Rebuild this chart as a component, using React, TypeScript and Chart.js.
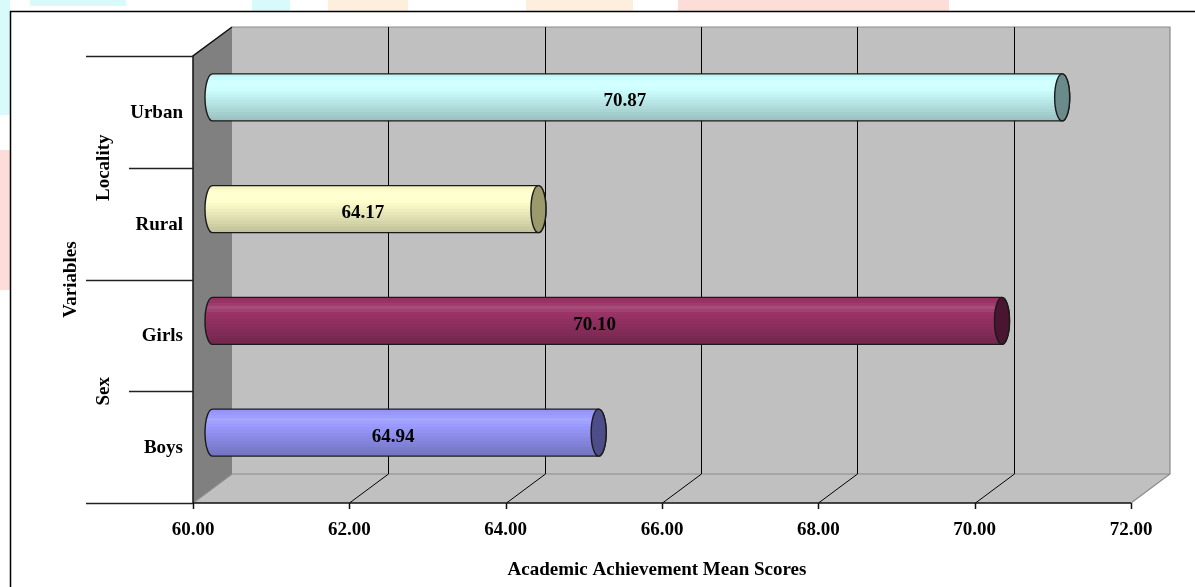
import React, { useEffect, useRef } from 'react';
import { Chart, registerables } from 'chart.js';

Chart.register(...registerables);

const categories = ['Urban', 'Rural', 'Girls', 'Boys'];
const groupLabels = ['Locality', 'Sex'];
const groupSizes = [2, 2];
const meanScores = [70.87, 64.17, 70.1, 64.94];
const barColors = ['#CCFFFF', '#FFFFCC', '#993366', '#9999FF'];
const capColors = ['#6B8B8B', '#9A9A6C', '#4A1530', '#4D4D8A'];
const xMin = 60;
const xMax = 72;
const xStep = 2;
const xTitle = 'Academic Achievement Mean Scores';
const yTitle = 'Variables';

const W = 1195;
const H = 587;
const DX = 39;
const DY = -29;
const FONT = '"Liberation Serif", "Times New Roman", serif';

function hexToRgb(h: string) {
  const n = parseInt(h.slice(1), 16);
  return [(n >> 16) & 255, (n >> 8) & 255, n & 255];
}

function shade(rgb: number[], f: number) {
  const out = rgb.map((c) => {
    if (f >= 1) return Math.round(c + (255 - c) * (f - 1) * 2.5);
    return Math.round(c * f);
  });
  return `rgb(${out.map((v) => Math.max(0, Math.min(255, v))).join(',')})`;
}

function profile(t: number) {
  if (t < 0.22) return 0.95 + (t / 0.22) * 0.1;
  return 1.05 - ((t - 0.22) / 0.78) * 0.3;
}

function drawCylinder(
  ctx: CanvasRenderingContext2D,
  xs: number,
  xe: number,
  cy: number,
  h: number,
  color: string,
  cap: string
) {
  const ry = h / 2;
  const rx = h * 0.16;
  const top = cy - ry;
  const bot = cy + ry;
  const rgb = hexToRgb(color);
  const g = ctx.createLinearGradient(0, top, 0, bot);
  const bands = 16;
  for (let i = 0; i < bands; i++) {
    const t0 = i / bands;
    const t1 = (i + 1) / bands;
    const c = shade(rgb, profile((t0 + t1) / 2));
    g.addColorStop(t0, c);
    g.addColorStop(Math.max(t0, t1 - 0.001), c);
  }
  ctx.save();
  ctx.beginPath();
  ctx.moveTo(xe, top);
  ctx.lineTo(xs, top);
  ctx.ellipse(xs, cy, rx, ry, 0, -Math.PI / 2, Math.PI / 2, true);
  ctx.lineTo(xe, bot);
  ctx.ellipse(xe, cy, rx, ry, 0, Math.PI / 2, -Math.PI / 2, true);
  ctx.closePath();
  ctx.fillStyle = g;
  ctx.fill();
  ctx.lineWidth = 1.4;
  ctx.strokeStyle = '#1a1a1a';
  ctx.stroke();
  ctx.beginPath();
  ctx.ellipse(xe, cy, rx, ry, 0, 0, Math.PI * 2);
  ctx.fillStyle = cap;
  ctx.fill();
  ctx.stroke();
  ctx.restore();
}

const scenePlugin = {
  id: 'scene3d',
  beforeDatasetsDraw(chart: any) {
    const ctx: CanvasRenderingContext2D = chart.ctx;
    const a = chart.chartArea;
    const xs = chart.scales.x;
    ctx.save();
    // faint watermark patches outside the frame
    ctx.fillStyle = '#D8FAFA';
    ctx.fillRect(30, 0, 96, 6);
    ctx.fillRect(252, 0, 38, 11);
    ctx.fillRect(0, 0, 10, 115);
    ctx.fillStyle = '#FDEEDD';
    ctx.fillRect(328, 0, 80, 11);
    ctx.fillRect(526, 0, 107, 11);
    ctx.fillStyle = '#FDDDD8';
    ctx.fillRect(678, 0, 271, 11);
    ctx.fillRect(0, 150, 10, 140);
    // outer frame
    ctx.strokeStyle = '#000';
    ctx.lineWidth = 1.5;
    ctx.beginPath();
    ctx.moveTo(10.5, H);
    ctx.lineTo(10.5, 11.5);
    ctx.lineTo(W, 11.5);
    ctx.stroke();

    const L = a.left, R = a.right, T = a.top, B = a.bottom;
    // back wall
    ctx.fillStyle = '#C0C0C0';
    ctx.fillRect(L + DX, T + DY, R - L, B - T);
    // floor
    ctx.beginPath();
    ctx.moveTo(L, B);
    ctx.lineTo(R, B);
    ctx.lineTo(R + DX, B + DY);
    ctx.lineTo(L + DX, B + DY);
    ctx.closePath();
    ctx.fill();
    // left wall
    ctx.fillStyle = '#808080';
    ctx.beginPath();
    ctx.moveTo(L, T);
    ctx.lineTo(L + DX, T + DY);
    ctx.lineTo(L + DX, B + DY);
    ctx.lineTo(L, B);
    ctx.closePath();
    ctx.fill();

    // gray edges
    ctx.strokeStyle = '#8a8a8a';
    ctx.lineWidth = 1.2;
    ctx.beginPath();
    ctx.moveTo(L + DX, T + DY);
    ctx.lineTo(R + DX, T + DY);
    ctx.lineTo(R + DX, B + DY);
    ctx.lineTo(R, B);
    ctx.moveTo(L + DX, B + DY);
    ctx.lineTo(R + DX, B + DY);
    ctx.moveTo(L, B);
    ctx.lineTo(L + DX, B + DY);
    ctx.stroke();

    // gridlines on back wall and floor
    ctx.strokeStyle = '#000';
    ctx.lineWidth = 1;
    const ticks = xs.ticks;
    ticks.forEach((tk: any) => {
      if (tk.value <= xMin || tk.value >= xMax) return;
      const px = Math.round(xs.getPixelForValue(tk.value)) + 0.5;
      ctx.beginPath();
      ctx.moveTo(px + DX, T + DY);
      ctx.lineTo(px + DX, B + DY);
      ctx.lineTo(px, B);
      ctx.stroke();
    });

    // front-left edge and top diagonal
    ctx.strokeStyle = '#111';
    ctx.lineWidth = 1.5;
    ctx.beginPath();
    ctx.moveTo(L + DX, T + DY);
    ctx.lineTo(L, T);
    ctx.lineTo(L, B);
    ctx.stroke();

    // x axis front line and ticks
    ctx.beginPath();
    ctx.moveTo(L, B);
    ctx.lineTo(R, B);
    ticks.forEach((tk: any) => {
      const px = Math.round(xs.getPixelForValue(tk.value)) + 0.5;
      ctx.moveTo(px, B);
      ctx.lineTo(px, B + 6);
    });
    ctx.stroke();

    // category separators
    const ys = chart.scales.y;
    const n = categories.length;
    const step = (B - T) / n;
    const groupBounds = [0];
    let acc = 0;
    groupSizes.forEach((s) => {
      acc += s;
      groupBounds.push(acc);
    });
    ctx.strokeStyle = '#222';
    ctx.lineWidth = 1.3;
    for (let i = 0; i <= n; i++) {
      const yy = i < n ? ys.getPixelForValue(i) - step / 2 : ys.getPixelForValue(n - 1) + step / 2;
      const long = groupBounds.includes(i);
      ctx.beginPath();
      ctx.moveTo(long ? 86 : 129, Math.round(yy) + 0.5);
      ctx.lineTo(L, Math.round(yy) + 0.5);
      ctx.stroke();
    }
    ctx.restore();
  },
  afterDatasetsDraw(chart: any) {
    const ctx: CanvasRenderingContext2D = chart.ctx;
    const meta = chart.getDatasetMeta(0);
    const basePx = chart.scales.x.getPixelForValue(xMin);
    ctx.save();
    meta.data.forEach((el: any, i: number) => {
      const p = el.getProps(['x', 'y', 'height'], true);
      const xs = basePx + DX / 2;
      const xe = p.x + DX / 2;
      const cy = p.y + DY / 2;
      drawCylinder(ctx, xs, xe, cy, p.height, barColors[i], capColors[i]);
      ctx.fillStyle = '#000';
      ctx.font = `bold 19px ${FONT}`;
      ctx.textAlign = 'center';
      ctx.textBaseline = 'middle';
      ctx.fillText(meanScores[i].toFixed(2), (basePx + p.x) / 2 + 7, cy + 4);
    });
    ctx.restore();
  },
  afterDraw(chart: any) {
    const ctx: CanvasRenderingContext2D = chart.ctx;
    const a = chart.chartArea;
    const xs = chart.scales.x;
    const ys = chart.scales.y;
    ctx.save();
    ctx.fillStyle = '#000';
    ctx.font = `bold 19px ${FONT}`;
    ctx.textBaseline = 'middle';
    ctx.textAlign = 'center';
    xs.ticks.forEach((tk: any) => {
      ctx.fillText(Number(tk.value).toFixed(2), xs.getPixelForValue(tk.value), a.bottom + 27);
    });
    ctx.textAlign = 'right';
    categories.forEach((c, i) => {
      ctx.fillText(c, a.left - 10, ys.getPixelForValue(i) + 1);
    });
    // axis title
    ctx.textAlign = 'center';
    ctx.font = `bold 19px ${FONT}`;
    ctx.fillText(xTitle, 657, a.bottom + 67);
    // group labels
    let start = 0;
    const step = (a.bottom - a.top) / categories.length;
    groupLabels.forEach((g, gi) => {
      const end = start + groupSizes[gi] - 1;
      const y0 = ys.getPixelForValue(start) - step / 2;
      const y1 = ys.getPixelForValue(end) + step / 2;
      ctx.save();
      ctx.translate(104, (y0 + y1) / 2);
      ctx.rotate(-Math.PI / 2);
      ctx.fillText(g, 0, 0);
      ctx.restore();
      start += groupSizes[gi];
    });
    ctx.save();
    ctx.translate(71, (a.top + a.bottom) / 2);
    ctx.rotate(-Math.PI / 2);
    ctx.fillText(yTitle, 0, 0);
    ctx.restore();
    ctx.restore();
  },
};

export default function App() {
  const ref = useRef<HTMLCanvasElement | null>(null);
  useEffect(() => {
    if (!ref.current) return;
    const chart = new Chart(ref.current, {
      type: 'bar',
      data: {
        labels: categories,
        datasets: [
          {
            data: meanScores,
            backgroundColor: 'rgba(0,0,0,0)',
            borderWidth: 0,
            barPercentage: 0.42,
            categoryPercentage: 1,
            base: xMin,
          },
        ],
      },
      options: {
        indexAxis: 'y',
        responsive: false,
        animation: false,
        devicePixelRatio: 1,
        layout: { padding: { left: 193, right: 64, top: 56, bottom: 84 } },
        scales: {
          x: { type: 'linear', min: xMin, max: xMax, ticks: { stepSize: xStep }, display: false },
          y: { type: 'category', display: false },
        },
        plugins: { legend: { display: false }, tooltip: { enabled: false } },
      },
      plugins: [scenePlugin],
    } as any);
    return () => chart.destroy();
  }, []);
  return (
    <div style={{ position: 'fixed', left: 0, top: 0, width: W, height: H, background: '#fff' }}>
      <canvas ref={ref} width={W} height={H} style={{ display: 'block', width: W, height: H }} />
    </div>
  );
}
